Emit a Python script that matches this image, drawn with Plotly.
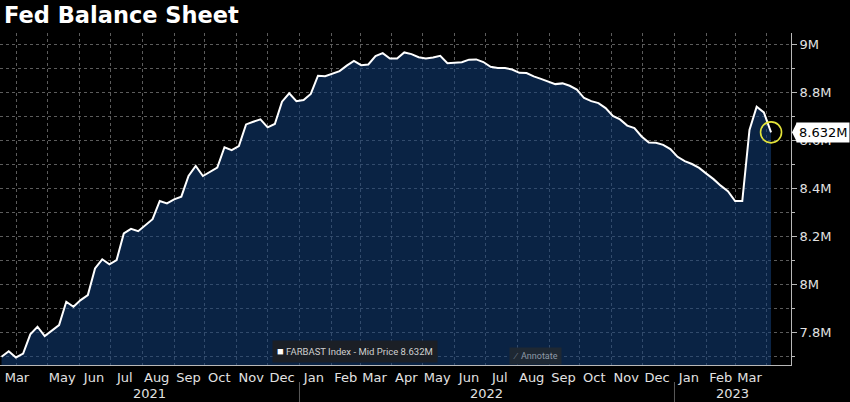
import plotly.graph_objects as go
import pandas as pd

# ---------------- data ----------------
title_text = "Fed Balance Sheet"
series_name = "FARBAST Index - Mid Price"
first_week = "2021-03-17"   # weekly (Wednesday) observations

# Fed balance sheet, millions of $M (i.e. "M" on axis)
values = [
    7.697, 7.720, 7.694, 7.710, 7.790, 7.822, 7.783, 7.808, 7.829, 7.926,
    7.905, 7.933, 7.954, 8.065, 8.103, 8.082, 8.100, 8.211, 8.230, 8.220,
    8.245, 8.270, 8.346, 8.336, 8.353, 8.364, 8.450, 8.492, 8.450, 8.468,
    8.485, 8.570, 8.558, 8.575, 8.665, 8.676, 8.686, 8.653, 8.667, 8.760,
    8.795, 8.762, 8.767, 8.792, 8.868, 8.866, 8.878, 8.887, 8.910, 8.930,
    8.912, 8.915, 8.950, 8.962, 8.940, 8.940, 8.965, 8.958, 8.945, 8.940,
    8.944, 8.951, 8.920, 8.922, 8.924, 8.935, 8.936, 8.925, 8.905, 8.900,
    8.900, 8.894, 8.880, 8.879, 8.865, 8.855, 8.845, 8.833, 8.836, 8.826,
    8.810, 8.775, 8.762, 8.754, 8.733, 8.700, 8.686, 8.660, 8.650, 8.615,
    8.590, 8.589, 8.580, 8.562, 8.530, 8.512, 8.500, 8.484, 8.460, 8.437,
    8.410, 8.387, 8.346, 8.346, 8.642, 8.739, 8.715, 8.632,
]
dates = pd.date_range(first_week, periods=len(values), freq="7D")

x_range = ["2021-03-15 12:00", "2023-04-24 10:00"]
y_range = [7.6625, 9.046]

month_tick_dates = [
    "2021-04-01", "2021-05-15", "2021-06-15", "2021-07-15", "2021-08-15",
    "2021-09-15", "2021-10-15", "2021-11-15", "2021-12-15",
    "2022-01-15", "2022-02-15", "2022-03-15", "2022-04-15", "2022-05-15",
    "2022-06-15", "2022-07-15", "2022-08-15", "2022-09-15", "2022-10-15",
    "2022-11-15", "2022-12-15",
    "2023-01-15", "2023-02-15", "2023-03-15",
]
month_tick_text = [
    "Mar", "May", "Jun", "Jul", "Aug", "Sep", "Oct", "Nov", "Dec",
    "Jan", "Feb", "Mar", "Apr", "May", "Jun", "Jul", "Aug", "Sep", "Oct",
    "Nov", "Dec",
    "Jan", "Feb", "Mar",
]
year_labels = ["2021", "2022", "2023"]

y_tick_vals = [7.8, 8.0, 8.2, 8.4, 8.6, 8.8, 9.0]
y_tick_text = ["7.8M", "8M", "8.2M", "8.4M", "8.6M", "8.8M", "9M"]

# ---------------- styling ----------------
FONT = "DejaVu Sans"
TICK_COL = "#e2e2e2"
GRID_COL = "#5c5c5c"
AXIS_COL = "#b8b8b8"
FILL_COL = "rgba(18,62,122,0.56)"

W, H = 850, 402
M_L, M_R, M_T, M_B = 0, 59, 33, 37
plot_h = H - M_T - M_B
pw = W - M_L - M_R

fig = go.Figure()

fig.add_trace(go.Scatter(
    x=dates, y=values, mode="lines",
    line=dict(color="#ffffff", width=2),
    fill="tozeroy", fillcolor=FILL_COL,
    hoverinfo="skip",
))

last_val = values[-1]
fig.add_trace(go.Scatter(
    x=[dates[-1]], y=[last_val], mode="markers",
    marker=dict(symbol="circle-open", size=21, color="#e4e43a",
                line=dict(width=1.6, color="#e4e43a")),
    cliponaxis=False, hoverinfo="skip",
))

# year labels centred in visible part of each year, dividers between years
r0, r1 = pd.Timestamp(x_range[0]), pd.Timestamp(x_range[1])
annotations = []
shapes = []
for yl in year_labels:
    ys = max(r0, pd.Timestamp(f"{yl}-01-01"))
    ye = min(r1, pd.Timestamp(f"{int(yl) + 1}-01-01"))
    mid = ys + (ye - ys) / 2
    annotations.append(dict(
        x=mid, xref="x", y=(365 - 393) / plot_h, yref="paper",
        text=yl, showarrow=False, xanchor="center", yanchor="middle",
        font=dict(family=FONT, size=13, color=TICK_COL),
    ))
    if pd.Timestamp(f"{yl}-01-01") > r0:
        shapes.append(dict(
            type="line", xref="x", yref="paper",
            x0=f"{yl}-01-01", x1=f"{yl}-01-01",
            y0=(365 - 382) / plot_h, y1=(365 - 404) / plot_h,
            line=dict(color="#5a5a5a", width=1),
        ))

# legend-like box
annotations.append(dict(
    x=272 / pw, xref="paper", y=(365 - 351) / plot_h, yref="paper",
    xanchor="left", yanchor="middle", showarrow=False,
    text=f'<span style="color:#ffffff;font-size:11px">■</span> {series_name} {last_val:.3f}M',
    font=dict(family="Roboto", size=9.5, color="#cfcfcf"),
    bgcolor="#1b1f26", borderpad=4,
))
annotations.append(dict(
    x=509 / pw, xref="paper", y=(365 - 356) / plot_h, yref="paper",
    xanchor="left", yanchor="middle", showarrow=False,
    text="∕  Annotate",
    font=dict(family="Roboto", size=9, color="#8e9aa8"),
    bgcolor="#1e2833", borderpad=3,
))

# last value tag
annotations.append(dict(
    x=1, xref="paper", y=last_val, yref="y",
    xanchor="left", yanchor="middle", xshift=5, showarrow=False,
    text=f"{last_val:.3f}M",
    font=dict(family=FONT, size=13, color="#000000"),
    bgcolor="#ffffff", borderpad=2,
))
shapes.append(dict(
    type="path", xref="paper", yref="y",
    path=(f"M {1 + 1 / pw},{last_val} "
          f"L {1 + 6 / pw},{last_val + 10 / 240} "
          f"L {1 + 6 / pw},{last_val - 10 / 240} Z"),
    fillcolor="#ffffff", line=dict(width=0),
))

fig.update_layout(
    width=W, height=H,
    margin=dict(l=M_L, r=M_R, t=M_T, b=M_B),
    paper_bgcolor="#000000", plot_bgcolor="#000000",
    showlegend=False,
    title=dict(
        text=f"<b>{title_text}</b>", x=4 / W, xanchor="left", xref="container",
        y=1 - 15 / H, yanchor="middle", yref="container",
        font=dict(family=FONT, size=22.5, color="#ffffff"),
    ),
    annotations=annotations,
    shapes=shapes,
    xaxis=dict(
        type="date", range=x_range,
        tickmode="array", tickvals=month_tick_dates, ticktext=month_tick_text,
        ticks="", showgrid=False, zeroline=False,
        tickfont=dict(family=FONT, size=13, color=TICK_COL),
        showline=True, linecolor=AXIS_COL, linewidth=1,
        minor=dict(tickmode="linear", tick0="2021-01-01", dtick="M1",
                   showgrid=True, gridcolor=GRID_COL, griddash="dot",
                   gridwidth=1, ticks=""),
    ),
    yaxis=dict(
        side="right", range=y_range,
        tickmode="array", tickvals=y_tick_vals, ticktext=y_tick_text,
        ticks="outside", ticklen=5, tickcolor=AXIS_COL, tickwidth=1,
        showgrid=True, gridcolor=GRID_COL, griddash="dot", gridwidth=1,
        zeroline=False,
        tickfont=dict(family=FONT, size=13, color=TICK_COL),
        showline=True, linecolor=AXIS_COL, linewidth=1,
        minor=dict(tickmode="linear", tick0=7.7, dtick=0.1,
                   ticks="outside", ticklen=3, tickcolor=AXIS_COL,
                   showgrid=True, gridcolor=GRID_COL, griddash="dot",
                   gridwidth=1),
    ),
)

fig.write_html(
    "out.html",
    config={"displayModeBar": False},
    post_script="document.body.style.margin='0px';document.body.style.overflow='hidden';",
)
